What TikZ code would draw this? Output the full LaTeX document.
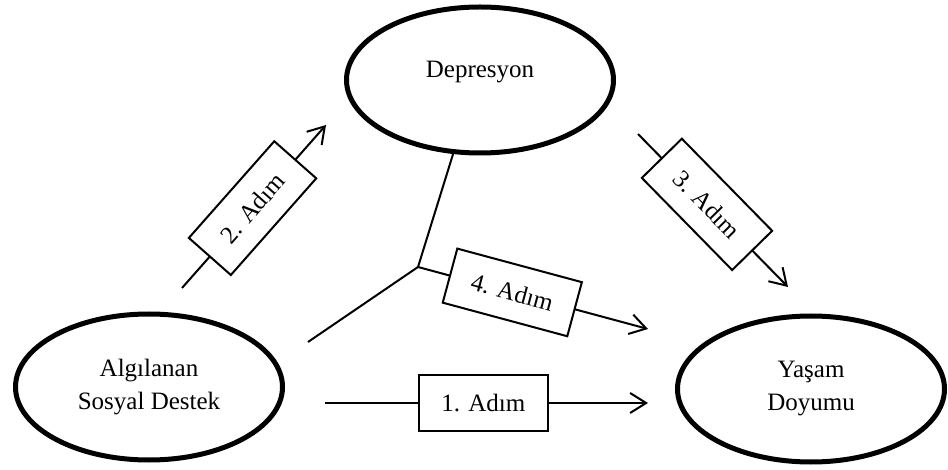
\documentclass[tikz,border=0pt]{standalone}
\usepackage{fontspec}
\setmainfont{Liberation Serif}
\usetikzlibrary{positioning}
\usetikzlibrary{arrows.meta}
\usetikzlibrary{shapes.geometric}

\tikzset{
  construct/.style={ellipse, draw, line width=2.5pt, minimum width=133.5pt, minimum height=73pt, align=center, font=\fontsize{12.5}{16.5}\selectfont},
  stepbox/.style={rectangle, draw, fill=white, line width=1pt, minimum width=64.5pt, minimum height=28pt, inner sep=0pt, sloped, font=\fontsize{12.5}{15}\selectfont},
  link/.style={line width=1pt, -{Straight Barb[length=8pt,width=10pt]}}
}

\begin{document}
\begin{tikzpicture}[x=0.5pt, y=-0.5pt]
\useasboundingbox (0,0) rectangle (948,470);

\node[construct, text depth=10.5pt] (dep) at (480,80) {Depresyon};
\node[construct] (als) at (149,387) {Algılanan\\Sosyal Destek};
\node[construct] (yas) at (811,389) {Yaşam\\Doyumu};

\coordinate (A1s) at (325,403);
\coordinate (A1e) at (648,403);
\coordinate (A2s) at (182,288);
\coordinate (A2e) at (326,125);
\coordinate (A3s) at (638,134);
\coordinate (A3e) at (788,287);
\coordinate (J) at (418,267);% junction
\coordinate (A4t) at (308,342);
\coordinate (A4e) at (648,329);

\draw[link] (A1s) -- node[stepbox, pos=0.49] {1. Adım} (A1e);% X -> Y
\draw[link] (A2s) -- node[stepbox, pos=0.49] {2. Adım} (A2e);% X -> M
\draw[link] (A3s) -- node[stepbox, pos=0.46] {3. Adım} (A3e);% M -> Y
\draw[line width=1pt] (dep.250) -- (J) -- (A4t);
\draw[link] (J) -- node[stepbox, pos=0.41] {4. Adım} (A4e);% X + M -> Y
\end{tikzpicture}
\end{document}
